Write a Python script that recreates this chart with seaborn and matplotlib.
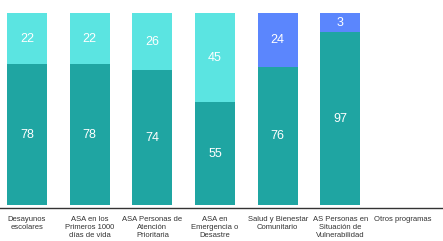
import matplotlib
matplotlib.use("Agg")
import matplotlib.pyplot as plt
import seaborn as sns
import pandas as pd

# categories on the x axis
programs = ["Desayunos\nescolares",
            "ASA en los\nPrimeros 1000\ndías de vida",
            "ASA Personas de\nAtención\nPrioritaria",
            "ASA en\nEmergencia o\nDesastre",
            "Salud y Bienestar\nComunitario",
            "AS Personas en\nSituación de\nVulnerabilidad",
            "Otros programas"]

# printed labels of the two segments
lower_labels = [78, 78, 74, 55, 76, 97, None]
upper_labels = [22, 22, 26, 45, 24, 3, None]

# segment heights as drawn in the picture (share of the full bar, %)
lower_share = [73.4, 73.4, 70.3, 53.6, 71.9, 90.1, 0]
bar_total = [100, 100, 100, 100, 100, 100, 0]

teal = "#1fa5a2"
cyan = "#5be4e1"
blue = "#5b86fd"
upper_colors = [cyan, cyan, cyan, cyan, blue, blue, cyan]

df = pd.DataFrame({"program": programs, "total": bar_total, "lower": lower_share})

sns.set_style("white")
plt.rcParams["font.family"] = ["Liberation Sans", "DejaVu Sans"]

fig = plt.figure(figsize=(4.43, 2.41), dpi=100)
ax = fig.add_axes([0, 33 / 241, 1, 195 / 241])

# full bar in the upper colour, then the lower segment on top of it
sns.barplot(data=df, x="program", y="total", hue="program", order=programs,
            palette=upper_colors, legend=False, width=0.64, saturation=1,
            linewidth=0, edgecolor="none", ax=ax)
sns.barplot(data=df, x="program", y="lower", order=programs, color=teal,
            width=0.64, saturation=1, linewidth=0, edgecolor="none", ax=ax)

for i in range(len(programs)):
    if lower_labels[i] is None:
        continue
    lo = lower_share[i]
    ax.text(i, lo / 2, str(lower_labels[i]), ha="center", va="center",
            color="white", fontsize=9)
    ax.text(i, (lo + 100) / 2, str(upper_labels[i]), ha="center", va="center",
            color="white", fontsize=9)

ax.set_xlim(-0.431, 6.638)
ax.set_ylim(-1.56, 100)
ax.set_xlabel("")
ax.set_ylabel("")
ax.set_yticks([])
for s in ["top", "right", "left"]:
    ax.spines[s].set_visible(False)
ax.spines["bottom"].set_color("#333333")
ax.spines["bottom"].set_linewidth(1)
ax.tick_params(axis="x", length=3, width=0.8, color="#999999", pad=3,
               labelsize=5.5, labelcolor="#333333")

fig.savefig("out.png", dpi=100)
